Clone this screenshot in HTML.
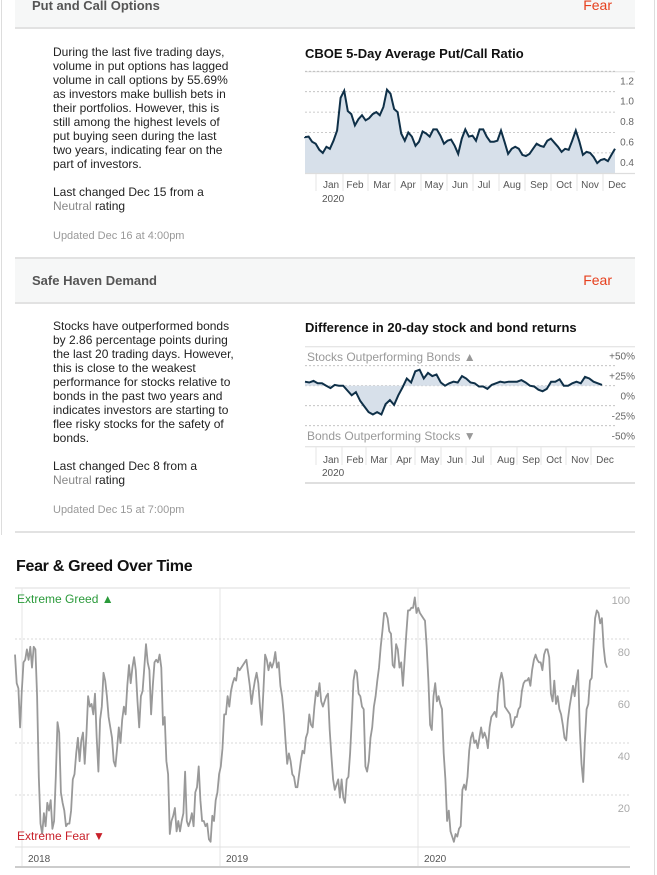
<!DOCTYPE html>
<html><head><meta charset="utf-8">
<style>
body{margin:0;width:657px;height:875px;overflow:hidden;background:#fff;font-family:"Liberation Sans",Arial,sans-serif;position:relative}
.a{position:absolute}
.hdr{position:absolute;left:15px;width:620px;background:#f6f7f7;border-bottom:2px solid #e2e2e2}
.hdr .t{position:absolute;left:17px;font-size:13px;font-weight:bold;color:#555}
.hdr .f{position:absolute;right:23px;font-size:14px;color:#e6401e}
.p{position:absolute;left:53px;width:180px;font-size:12px;line-height:14px;color:#222}
.up{position:absolute;left:53px;font-size:11px;color:#999}
.ct{position:absolute;left:305px;font-size:13px;font-weight:bold;color:#111}
svg text{font-family:"Liberation Sans",Arial,sans-serif}
</style></head><body>
<div class="a" style="left:1px;top:0;width:1px;height:535px;background:#ddd"></div>
<div class="a" style="left:654px;top:0;width:1px;height:875px;background:#ddd"></div>

<div class="hdr" style="top:0;height:27px">
<div class="t" style="top:-2px">Put and Call Options</div>
<div class="f" style="top:-3px">Fear</div></div>
<div class="p" style="top:45px">During the last five trading days, volume in put options has lagged volume in call options by 55.69% as investors make bullish bets in their portfolios. However, this is still among the highest levels of put buying seen during the last two years, indicating fear on the part of investors.<br><br>Last changed Dec 15 from a <span style="color:#888">Neutral</span> rating</div>
<div class="up" style="top:230px">Updated Dec 16 at 4:00pm</div>

<div class="hdr" style="top:257px;height:43px;border-top:2px solid #e2e2e2">
<div class="t" style="top:14px">Safe Haven Demand</div>
<div class="f" style="top:13px">Fear</div></div>
<div class="p" style="top:319px;width:186px">Stocks have outperformed bonds by 2.86 percentage points during the last 20 trading days. However, this is close to the weakest performance for stocks relative to bonds in the past two years and indicates investors are starting to flee risky stocks for the safety of bonds.<br><br>Last changed Dec 8 from a<br><span style="color:#888">Neutral</span> rating</div>
<div class="up" style="top:504px">Updated Dec 15 at 7:00pm</div>
<div class="a" style="left:15px;top:531px;width:620px;height:2px;background:#e2e2e2"></div>

<div class="ct" style="top:46px">CBOE 5-Day Average Put/Call Ratio</div>
<div class="ct" style="top:320px">Difference in 20-day stock and bond returns</div>
<div class="a" style="left:16px;top:558px;font-size:16px;font-weight:bold;color:#111;letter-spacing:-0.3px">Fear &amp; Greed Over Time</div>

<svg class="a" id="svg" style="left:0;top:0" width="657" height="875"></svg>

<script>
const pcTicks=[1.2,1.0,0.8,0.6,0.4];
const pcValues=[0.555,0.56,0.51,0.49,0.43,0.40,0.46,0.44,0.52,0.62,0.94,1.01,0.81,0.78,0.67,0.73,0.77,0.72,0.74,0.78,0.80,0.77,0.85,1.02,0.98,0.83,0.80,0.59,0.52,0.60,0.56,0.47,0.51,0.61,0.59,0.56,0.63,0.63,0.57,0.49,0.52,0.53,0.47,0.39,0.54,0.63,0.56,0.57,0.52,0.63,0.63,0.56,0.51,0.51,0.52,0.62,0.51,0.39,0.44,0.46,0.44,0.38,0.37,0.39,0.44,0.49,0.47,0.46,0.52,0.54,0.50,0.46,0.41,0.44,0.43,0.52,0.62,0.51,0.38,0.41,0.40,0.36,0.30,0.33,0.34,0.32,0.38,0.44];
const months=["Jan","Feb","Mar","Apr","May","Jun","Jul","Aug","Sep","Oct","Nov","Dec"];
const sbTicks=[50,25,0,-25,-50];
const sbTickLabels=["+50%","+25%","0%","-25%","-50%"];
const sbValues=[5,4,6,3,3,0,-3,1,0,0,-6,-12,-8,-19,-26,-33,-36,-33,-36,-23,-18,-24,-12,-2,9,4,18,20,9,16,12,14,4,0,3,5,4,12,9,4,3,-1,-1,-4,1,3,5,4,5,5,5,7,4,0,-1,-5,-7,-4,5,5,8,0,0,3,5,3,11,9,5,3,1];
const fgTicks=[100,80,60,40,20];
const fgYears=["2018","2019","2020"];
const fgValues=[74,63,61,46,60,71,72,76,72,77,69,77,76,58,27,9,5,13,8,17,14,18,7,10,27,48,44,21,17,14,8,9,9,14,26,28,36,42,33,41,44,32,43,58,54,55,51,59,42,29,49,54,67,64,58,50,46,42,33,31,38,46,40,49,54,51,62,70,63,69,73,68,56,46,58,60,69,78,71,68,51,62,71,72,71,74,69,47,50,33,28,5,10,12,15,6,10,6,10,13,29,10,8,10,13,8,21,23,31,18,10,10,8,9,3,2,12,10,18,21,28,31,38,51,51,58,54,60,63,65,64,69,68,69,70,71,72,67,62,55,60,64,67,63,54,47,60,74,72,68,71,69,71,75,69,71,62,58,51,41,32,36,33,28,27,23,23,28,33,37,36,42,44,51,47,46,54,60,58,63,56,54,56,58,59,45,35,26,22,24,26,19,26,19,17,26,27,36,49,64,68,67,59,58,54,53,31,29,33,42,46,54,58,64,69,77,83,90,90,88,83,82,70,69,78,76,69,71,62,72,82,91,91,92,92,96,90,92,90,89,88,87,77,64,47,45,58,63,56,58,55,53,36,26,10,14,6,4,2,5,4,7,8,22,24,22,27,37,42,44,40,41,38,42,46,42,44,42,38,46,50,51,52,50,59,64,67,64,54,53,52,51,46,47,50,50,53,54,60,63,64,64,65,62,68,72,74,72,71,71,68,74,76,76,73,59,56,64,55,58,53,51,47,42,41,49,54,58,62,58,64,68,45,32,25,41,53,55,64,65,77,88,91,90,86,88,77,71,69];

const svg=document.getElementById('svg');
const NS='http://www.w3.org/2000/svg';
function mk(tag,attrs,parent){const e=document.createElementNS(NS,tag);for(const k in attrs)e.setAttribute(k,attrs[k]);(parent||svg).appendChild(e);return e;}
function txt(x,y,s,attrs){const t=mk('text',Object.assign({x:x,y:y},attrs));t.textContent=s;return t;}

// ---- Chart 1: put/call ----
const pcX=i=>305+i*(615-305)/(pcValues.length-1);
const pcY=v=>173.3-(v-0.2)*102;
let g=mk('g',{});


mk('line',{x1:305,x2:635,y1:71.7,y2:71.7,stroke:'#ddd','stroke-width':1},g);
pcTicks.forEach(t=>{
  mk('line',{x1:305,x2:615,y1:pcY(t),y2:pcY(t),stroke:'#bbb','stroke-dasharray':'2,2','stroke-width':0.8},g);
  const l=txt(634,pcY(t)+13,t.toFixed(1),{'font-size':10,fill:'#666','text-anchor':'end'},);
  
  
});
let d='M'+pcX(0)+','+pcY(pcValues[0]);
pcValues.forEach((v,i)=>{d+=' L'+pcX(i).toFixed(1)+','+pcY(v).toFixed(1);});
const area=mk('path',{d:d+' L615,173.3 L305,173.3 Z',fill:'#d7e0ea'},g);


const line1=mk('path',{d:d,fill:'none',stroke:'#0f3048','stroke-width':2},g);


mk('line',{x1:305,x2:635,y1:173.5,y2:173.5,stroke:'#ddd','stroke-width':1.2},g);
const pcSep=[316,343,368,395,421,447,473,499,525,551,577,603];
const pcLab=[331,355,382,408,434,460,484,512,539,564,590,617];
months.forEach((m,i)=>{
  mk('line',{x1:pcSep[i],x2:pcSep[i],y1:174,y2:191,stroke:'#e5e5e5'},g);
  const l=txt(pcLab[i],188,m,{'font-size':10,fill:'#555','text-anchor':'middle'});
  
  
});
txt(322,202,'2020',{'font-size':10,fill:'#555'});

// ---- Chart 2: stock vs bond ----
const sbX=i=>305+i*(602-305)/(sbValues.length-1);
const sbY=v=>385.7-v*0.8;
g=mk('g',{});


mk('line',{x1:305,x2:635,y1:346.7,y2:346.7,stroke:'#ddd','stroke-width':1},g);
sbTicks.forEach((t,i)=>{
  if(i>0) mk('line',{x1:305,x2:615,y1:sbY(t),y2:sbY(t),stroke:'#bbb','stroke-dasharray':'2,2','stroke-width':0.8},g);
  const l=txt(635,sbY(t)+14,sbTickLabels[i],{'font-size':10,fill:'#666','text-anchor':'end'});
  
  
});
d='M'+sbX(0)+','+sbY(sbValues[0]);
sbValues.forEach((v,i)=>{d+=' L'+sbX(i).toFixed(1)+','+sbY(v).toFixed(1);});
const area2=mk('path',{d:d+' L602,'+sbY(0)+' L305,'+sbY(0)+' Z',fill:'#d7e0ea'},g);


const line2=mk('path',{d:d,fill:'none',stroke:'#0f3048','stroke-width':2},g);


const sl=txt(307,361,'Stocks Outperforming Bonds \u25B2',{'font-size':12,fill:'#999'});


const bl=txt(307,440,'Bonds Outperforming Stocks \u25BC',{'font-size':12,fill:'#999'});


mk('line',{x1:305,x2:635,y1:446.7,y2:446.7,stroke:'#ddd','stroke-width':1},g);
const sbSep=[316,342,366,391,415,441,466,491,517,541,566,591];
const sbLab=[331,355,379,404,430,455,478,506,531,554,580,605];
months.forEach((m,i)=>{
  mk('line',{x1:sbSep[i],x2:sbSep[i],y1:447,y2:465,stroke:'#e5e5e5'},g);
  const l=txt(sbLab[i],463,m,{'font-size':10,fill:'#555','text-anchor':'middle'});
  
  
});
txt(322,476,'2020',{'font-size':10,fill:'#555'});
mk('line',{x1:305,x2:635,y1:483,y2:483,stroke:'#ccc','stroke-width':1.2},g);

// ---- Chart 3: fear & greed ----
const fgX=i=>15+i*(607-15)/(fgValues.length-1);
const fgY=v=>847-v*2.6;
g=mk('g',{});


mk('line',{x1:15,x2:630,y1:588,y2:588,stroke:'#ddd','stroke-width':1},g);
const yearX=[22,220,418];
fgYears.forEach((y,i)=>{
  mk('line',{x1:yearX[i],x2:yearX[i],y1:588,y2:867,stroke:'#e5e5e5'},g);
  const l=txt(yearX[i]+6,862,y,{'font-size':10,fill:'#555'});
  
  
});
fgTicks.forEach(t=>{
  if(t<100) mk('line',{x1:15,x2:630,y1:fgY(t),y2:fgY(t),stroke:'#ccc','stroke-dasharray':'2,2','stroke-width':0.8},g);
  const l=txt(630,fgY(t)+17,String(t),{'font-size':11,fill:'#aaa','text-anchor':'end'});
  
  
});
d='';
fgValues.forEach((v,i)=>{d+=(i?' L':'M')+fgX(i).toFixed(1)+','+fgY(v).toFixed(1);});
const line3=mk('path',{d:d,fill:'none',stroke:'#999','stroke-width':1.8,'stroke-linejoin':'round'},g);


mk('line',{x1:15,x2:630,y1:847,y2:847,stroke:'#e0e0e0','stroke-width':1},g);
mk('line',{x1:15,x2:630,y1:867,y2:867,stroke:'#ccc','stroke-width':2},g);
const eg=txt(17,603,'Extreme Greed \u25B2',{'font-size':12,fill:'#2a9a3a'});


const ef=txt(17,840,'Extreme Fear \u25BC',{'font-size':12,fill:'#c8202a'});


</script>
</body></html>
